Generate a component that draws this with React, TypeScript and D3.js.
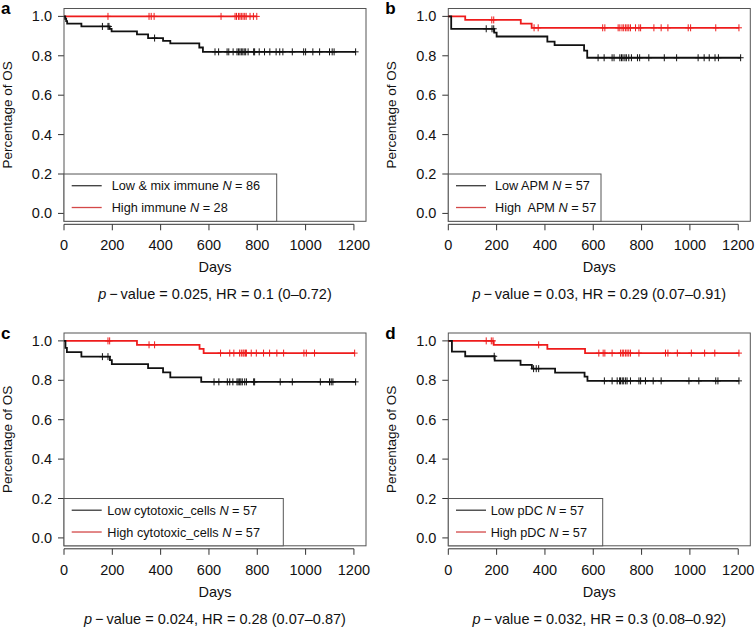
import React from "react";
import * as d3 from "d3";

const FONT = "'Liberation Sans', Arial, Helvetica, sans-serif";

const xTicks = [0, 200, 400, 600, 800, 1000, 1200];
const yTicks = [0, 0.2, 0.4, 0.6, 0.8, 1.0];
const yTickLabels = ["0.0", "0.2", "0.4", "0.6", "0.8", "1.0"];

// Panel a
const aLowSteps = [[5, 0.988], [9, 0.976], [13, 0.963], [72, 0.949], [189, 0.937], [197, 0.924], [302, 0.909], [348, 0.89], [410, 0.876], [440, 0.863], [560, 0.842], [575, 0.82]];
const aLowCensor = [159, 182, 186, 375, 625, 640, 675, 682, 700, 716, 722, 728, 734, 740, 746, 752, 762, 785, 789, 808, 830, 852, 878, 893, 906, 945, 992, 1000, 1030, 1058, 1099, 1110, 1118, 1207];
const aHighSteps: number[][] = [];
const aHighCensor = [182, 352, 361, 373, 650, 708, 714, 722, 728, 734, 741, 748, 754, 770, 784, 798];

// Panel b
const bLowSteps = [[12, 0.937], [190, 0.918], [200, 0.898], [410, 0.872], [440, 0.854], [562, 0.826], [575, 0.79]];
const bLowCensor = [157, 181, 188, 620, 645, 678, 686, 710, 717, 723, 731, 737, 747, 758, 783, 792, 830, 894, 945, 1034, 1059, 1080, 1104, 1118, 1210];
const bHighSteps = [[70, 0.982], [300, 0.963], [345, 0.942]];
const bHighCensor = [180, 188, 355, 372, 639, 648, 703, 710, 719, 726, 734, 740, 747, 754, 775, 789, 796, 851, 881, 909, 993, 1003, 1107, 1203];

// Panel c
const cLowSteps = [[6, 0.965], [12, 0.943], [72, 0.92], [190, 0.902], [198, 0.882], [348, 0.862], [410, 0.84], [440, 0.815], [568, 0.792]];
const cLowCensor = [159, 182, 621, 641, 676, 686, 699, 716, 721, 727, 732, 738, 748, 755, 785, 789, 895, 945, 1061, 1099, 1106, 1113, 1207];
const cHighSteps = [[302, 0.98], [561, 0.959], [578, 0.938]];
const cHighCensor = [182, 189, 352, 375, 648, 686, 703, 727, 734, 741, 745, 751, 755, 775, 796, 826, 851, 881, 909, 993, 1003, 1037, 1203];

// Panel d
const dLowSteps = [[15, 0.945], [70, 0.922], [192, 0.9], [299, 0.878], [346, 0.859], [442, 0.839], [564, 0.819], [576, 0.797]];
const dLowCensor = [190, 353, 364, 374, 646, 678, 699, 709, 713, 720, 726, 734, 740, 754, 789, 796, 816, 848, 881, 996, 1037, 1107, 1116, 1203];
const dHighSteps = [[188, 0.98], [410, 0.959], [566, 0.938]];
const dHighCensor = [157, 178, 185, 374, 623, 641, 648, 678, 713, 720, 726, 734, 740, 747, 754, 789, 899, 909, 948, 1006, 1061, 1103, 1203];

const panelLetters = ["a", "b", "c", "d"];
const legendLow = [["Low & mix immune "], ["Low APM "], ["Low cytotoxic_cells "], ["Low pDC "]];
const legendHigh = [["High immune "], ["High\u00a0 APM "], ["High cytotoxic_cells "], ["High pDC "]];
const legendN = [[" = 86", " = 28"], [" = 57", " = 57"], [" = 57", " = 57"], [" = 57", " = 57"]];
const pValues = [
  " = 0.025, HR = 0.1 (0\u20130.72)",
  " = 0.03, HR = 0.29 (0.07\u20130.91)",
  " = 0.024, HR = 0.28 (0.07\u20130.87)",
  " = 0.032, HR = 0.3 (0.08\u20130.92)",
];

const BLACK = "#111";
const RED = "#ee1c1c";

const layout = [
  { dx: 0, dy: 0, legW: 212.7, textOff: 47.7 },
  { dx: 384.3, dy: 0, legW: 152.7, textOff: 46.7 },
  { dx: 0, dy: 324.5, legW: 219.3, textOff: 43.3 },
  { dx: 384.3, dy: 324.5, legW: 154.4, textOff: 42.4 },
];

const series = [
  [aLowSteps, aLowCensor, aHighSteps, aHighCensor],
  [bLowSteps, bLowCensor, bHighSteps, bHighCensor],
  [cLowSteps, cLowCensor, cHighSteps, cHighCensor],
  [dLowSteps, dLowCensor, dHighSteps, dHighCensor],
];

function survAt(steps: number[][], t: number) {
  let s = 1;
  for (const [st, sv] of steps) if (st <= t) s = sv;
  return s;
}

function Curve({ steps, censor, color, x, y }: any) {
  const end = d3.max(censor as number[]) as number;
  const pts = [[0, 1], ...steps, [end, steps.length ? steps[steps.length - 1][1] : 1]];
  const line = d3
    .line<number[]>()
    .x((d) => x(d[0]))
    .y((d) => y(d[1]))
    .curve(d3.curveStepAfter);
  const marks = (censor as number[])
    .map((t) => {
      const cx = x(t);
      const cy = y(survAt(steps, t));
      return `M${cx - 3},${cy}H${cx + 3}M${cx},${cy - 3.5}V${cy + 3.5}`;
    })
    .join("");
  return (
    <g>
      <path d={line(pts as number[][]) || ""} fill="none" stroke={color} strokeWidth={1.8} />
      <path d={marks} fill="none" stroke={color} strokeWidth={1} />
    </g>
  );
}

function Panel({ i }: { i: number }) {
  const L = layout[i];
  const left = 64 + L.dx;
  const right = 366 + L.dx;
  const top = 8.5 + L.dy;
  const bottom = 221.3 + L.dy;
  const x = d3.scaleLinear().domain([0, 1250]).range([left, right]);
  const y = d3.scaleLinear().domain([-0.04, 1.04]).range([bottom, top]);
  const [lowS, lowC, highS, highC] = series[i] as any;
  const cx = (left + right) / 2;
  const axisY = bottom + 3;
  const legTop = y(0.2);
  const rowLow = legTop + 11.7;
  const rowHigh = legTop + 33.5;
  return (
    <g fontFamily={FONT}>
      <text x={1 + L.dx} y={14 + L.dy} fontSize={17} fontWeight="bold" fill="#000">
        {panelLetters[i]}
      </text>
      {/* y axis */}
      {yTicks.map((t, k) => (
        <g key={k}>
          <line x1={left - 6} x2={left} y1={y(t)} y2={y(t)} stroke="#333" strokeWidth={1} />
          <text x={left - 12} y={y(t) + 5} fontSize={14.5} textAnchor="end" fill="#111">
            {yTickLabels[k]}
          </text>
        </g>
      ))}
      <text
        transform={`translate(${12 + L.dx},${(top + bottom) / 2}) rotate(-90)`}
        fontSize={13.5}
        textAnchor="middle"
        fill="#111"
      >
        Percentage of OS
      </text>
      {/* x axis */}
      <line x1={x(0)} x2={x(1200)} y1={axisY} y2={axisY} stroke="#333" strokeWidth={1} />
      {xTicks.map((t, k) => (
        <g key={k}>
          <line x1={x(t)} x2={x(t)} y1={axisY} y2={axisY + 6} stroke="#333" strokeWidth={1} />
          <text x={x(t)} y={bottom + 29} fontSize={14.5} textAnchor="middle" fill="#111">
            {t}
          </text>
        </g>
      ))}
      <text x={cx} y={bottom + 51} fontSize={14.5} textAnchor="middle" fill="#111">
        Days
      </text>
      <text x={cx} y={bottom + 78} fontSize={14.5} textAnchor="middle" fill="#111">
        <tspan fontStyle="italic">p</tspan>
        {"\u2009\u2212\u2009value"}
        {pValues[i]}
      </text>
      {/* frame */}
      <rect x={left} y={top} width={right - left} height={bottom - top} fill="none" stroke="#555" strokeWidth={1} />
      {/* curves */}
      <Curve steps={highS} censor={highC} color={RED} x={x} y={y} />
      <Curve steps={lowS} censor={lowC} color={BLACK} x={x} y={y} />
      {/* legend */}
      <rect x={left} y={legTop} width={L.legW} height={bottom - legTop} fill="white" stroke="#555" strokeWidth={1} />
      <line x1={left + 7.7} x2={left + 37.7} y1={rowLow} y2={rowLow} stroke="#3a3a3a" strokeWidth={1.3} />
      <line x1={left + 7.7} x2={left + 37.7} y1={rowHigh} y2={rowHigh} stroke="#d44848" strokeWidth={1.3} />
      <text x={left + L.textOff} y={rowLow + 4.5} fontSize={12.7} fill="#111">
        {legendLow[i][0]}
        <tspan fontStyle="italic">N</tspan>
        {legendN[i][0]}
      </text>
      <text x={left + L.textOff} y={rowHigh + 4.5} fontSize={12.7} fill="#111">
        {legendHigh[i][0]}
        <tspan fontStyle="italic">N</tspan>
        {legendN[i][1]}
      </text>
    </g>
  );
}

export default function App() {
  return (
    <svg
      width={755}
      height={628}
      style={{ position: "absolute", left: 0, top: 0, background: "white" }}
    >
      <rect x={0} y={0} width={755} height={628} fill="white" />
      {[0, 1, 2, 3].map((i) => (
        <Panel key={i} i={i} />
      ))}
    </svg>
  );
}
